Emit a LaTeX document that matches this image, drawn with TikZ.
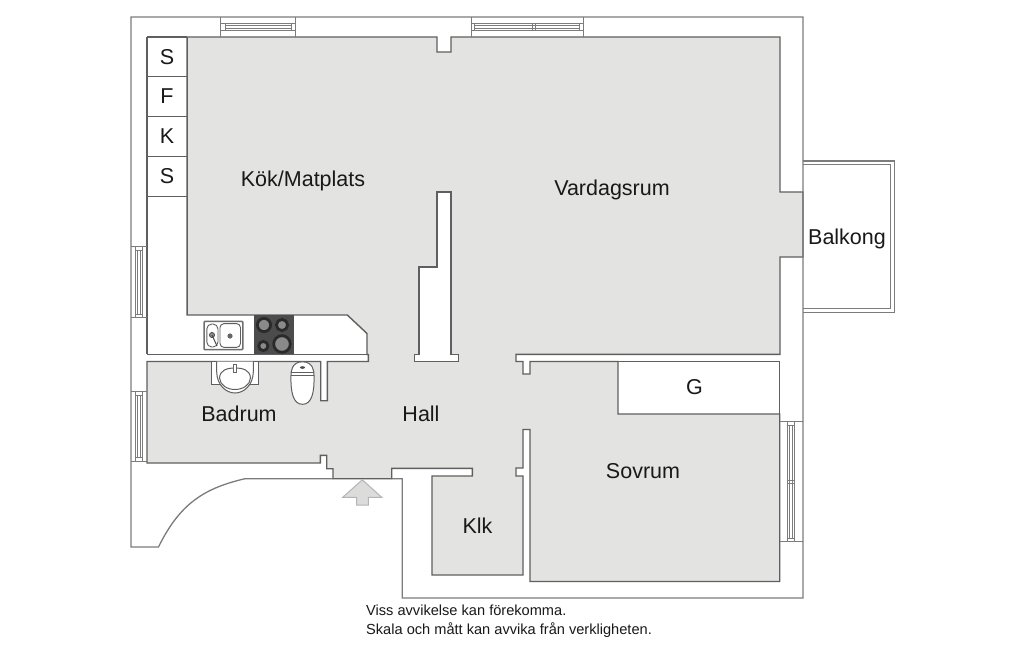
\documentclass[tikz,border=0pt]{standalone}
\usepackage{fontspec}
\setmainfont{Liberation Sans}
\definecolor{floorgray}{HTML}{E3E3E2}
\definecolor{wallline}{HTML}{5F5F5F}
\definecolor{outerline}{HTML}{7C7C7C}
\definecolor{hobdark}{HTML}{4C4C4C}
\definecolor{ringgray}{HTML}{2A2A2A}
\definecolor{burnergray}{HTML}{8A8A8A}
\definecolor{arrowfill}{HTML}{DCDCDB}
\definecolor{arrowline}{HTML}{B4B4B4}
\tikzset{
  wall/.style={draw=wallline,line width=1.4pt,line join=miter},
  outerwall/.style={draw=outerline,line width=1.3pt,line join=miter},
  winline/.style={draw=outerline,line width=1pt},
  roomlabel/.style={font=\fontsize{21.5}{24}\selectfont,text=black!90,inner sep=0pt},
  smalllabel/.style={font=\fontsize{14.6}{20}\selectfont,text=black!90,inner sep=0pt,anchor=base west},
  burner/.style={fill=burnergray,draw=ringgray,line width=2.8pt},
}
\begin{document}
\begin{tikzpicture}[x=1pt,y=-1pt]
\useasboundingbox (0,0) rectangle (1024,646);
\fill[white] (0,0) rectangle (1024,646);
% balcony
\draw[outerwall] (803,161) -- (894.3,161) -- (894.3,312.3) -- (803,312.3);
\draw[outerwall] (803,164.7) -- (890.7,164.7) -- (890.7,308.3) -- (803,308.3);
% floor
\filldraw[fill=floorgray,wall]
  (187,37) -- (437,37) -- (437,52) -- (451,52) -- (451,37) -- (780,37) -- (780,192) -- (803,192)
  -- (803,257) -- (780,257) -- (780,354.3) -- (516,354.3) -- (516,361.5) -- (523,361.5) -- (523,374)
  -- (530,374) -- (530,361.5) -- (618,361.5) -- (618,414) -- (779.7,414) -- (779.7,581.5) -- (530,581.5)
  -- (530,429.5) -- (523,429.5) -- (523,468) -- (516,468) -- (516,476) -- (523,476) -- (523,575)
  -- (432,575) -- (432,476) -- (472.3,476) -- (472.3,468.3) -- (391.7,468.3) -- (391.7,478.7)
  -- (333,478.7) -- (333,468.7) -- (326.7,468.7) -- (326.7,455.3) -- (320.3,455.3) -- (320.3,463)
  -- (147,463) -- (147,361.5) -- (320.7,361.5) -- (320.7,400.7) -- (327.3,400.7) -- (327.3,361.5)
  -- (368.3,361.5) -- (368.3,354.5) -- (367,354.5) -- (367,333.5) -- (347.3,315) -- (187,315) -- cycle;
% G closet, top and right
\draw[wall] (618,361.5) -- (779.7,361.5) -- (779.7,414);
% pillar
\filldraw[fill=white,wall] (437,192) -- (451,192) -- (451,354.3) -- (458.3,354.3) -- (458.3,361.7)
  -- (414.3,361.7) -- (414.3,354.3) -- (419,354.3) -- (419,267) -- (437,267) -- cycle;
% outer walls
\draw[outerwall] (391.7,478.7) -- (402.3,478.7) -- (402.3,598) -- (803,598) -- (803,17) -- (131,17) -- (131,547) -- (158.5,547)
  .. controls (180,503) and (205,488) .. (245,478.7) -- (333,478.7);
% inner kitchen wall lines
\draw[wall] (147,37) -- (187,37);
\draw[wall,line width=1.1pt] (147,37) -- (147,354.4);
\draw[wall] (147,354.4) -- (368,354.4);
\foreach \yy in {76.7,116.7,156.3,196.3} \draw[wall,line width=1pt] (147,\yy) -- (187,\yy);
\draw[wall,line width=1pt] (187,315) -- (187,37);
% top windows
\draw[winline] (220.7,17) -- (220.7,37) (295.5,17) -- (295.5,37);
\draw[winline] (220.7,23.5) -- (295.5,23.5) (220.7,30) -- (295.5,30);
\draw[winline,line width=.7pt] (225,25.2) -- (291.5,25.2) (225,28.5) -- (291.5,28.5) (225,23.5) -- (225,30) (291.5,23.5) -- (291.5,30);
\draw[winline] (471,17) -- (471,37) (583,17) -- (583,37);
\draw[winline] (471,23.5) -- (583,23.5) (471,30) -- (583,30);
\draw[winline,line width=.7pt] (474.5,25.2) -- (579.5,25.2) (474.5,28.5) -- (579.5,28.5) (474.5,23.5) -- (474.5,30) (579.5,23.5) -- (579.5,30) (532,23.5) -- (532,30) (535,23.5) -- (535,30);
% left windows
\foreach \ya/\yb in {246.5/317.5,391.7/461.3} {
  \draw[winline] (131,\ya) -- (147,\ya) (131,\yb) -- (147,\yb);
  \draw[winline] (135.3,\ya) -- (135.3,\yb) (142,\ya) -- (142,\yb);
  \draw[winline,line width=.7pt] (137,\ya+3.5) -- (137,\yb-3.5) (140.3,\ya+3.5) -- (140.3,\yb-3.5) (135.3,\ya+3.5) -- (142,\ya+3.5) (135.3,\yb-3.5) -- (142,\yb-3.5);
}
% right window
\draw[winline] (780,421.7) -- (803,421.7) (780,541.7) -- (803,541.7);
\draw[winline] (787.7,421.7) -- (787.7,541.7) (794.3,421.7) -- (794.3,541.7);
\draw[winline,line width=.7pt] (789.4,425) -- (789.4,538) (792.6,425) -- (792.6,538) (787.7,425) -- (794.3,425) (787.7,538) -- (794.3,538) (787.7,480.5) -- (794.3,480.5) (787.7,483.5) -- (794.3,483.5);
% hob
\fill[hobdark] (254,315) rectangle (294,354.4);
\draw[burner] (264,325) circle[radius=6.6];
\draw[burner] (282,325) circle[radius=5.6];
\draw[burner] (263.3,346) circle[radius=4.6];
\draw[burner] (282,344) circle[radius=8.3];
% sink
\draw[draw=burnergray!80!black,line width=1.5pt,rounded corners=1pt] (204,321.3) rectangle (242.8,349.7);
\draw[wall,line width=.9pt,fill=white,rounded corners=4pt] (220,323.6) rectangle (240.5,347.4);
\draw[wall,line width=.9pt,fill=white,rounded corners=5pt] (206.8,324) rectangle (218,347);
\fill[black!60] (230,336) circle[radius=2.6];
\filldraw[fill=burnergray,draw=black!70,line width=.7pt] (212,335) circle[radius=2.6];
\draw[black!70,line width=1pt] (212,335) -- (217,346);
% wash basin
\draw[wall,line width=1pt,fill=white] (211.7,361.5) -- (211.7,384) -- (258.3,384) -- (258.3,361.5);
\draw[wall,line width=1pt,fill=white] (216.7,361.5) -- (216.7,372) .. controls (217,385) and (226,393) .. (235,393) .. controls (244,393) and (253,385) .. (253.3,372) -- (253.3,361.5);
\draw[wall,line width=1pt] (219.5,378) .. controls (220,370) and (227,368) .. (235,368) .. controls (243,368) and (250,370) .. (250.5,378) .. controls (250,385) and (243,389.5) .. (235,389.5) .. controls (227,389.5) and (220,385) .. (219.5,378) -- cycle;
\filldraw[fill=white,draw=black!60,line width=.7pt] (233.7,364) rectangle (236.3,372);
% toilet
\filldraw[fill=white,wall,line width=1pt] (291,375) .. controls (291,372) and (291.5,361.8) .. (302.5,361.8) .. controls (313.5,361.8) and (314,372) .. (314,375)
  .. controls (314.5,392) and (312,404.3) .. (302.5,404.3) .. controls (293,404.3) and (290.5,392) .. (291,375) -- cycle;
\draw[wall,line width=1pt] (291,372.5) -- (314,372.5);
\draw[wall,line width=.7pt] (291.3,375) -- (313.7,375);
\fill[black!70] (302.5,367.5) ellipse[x radius=2.6,y radius=1.3];
% entry arrow
\filldraw[fill=arrowfill,draw=arrowline,line width=1pt,line join=miter] (362.3,479.8) -- (381.7,497.3) -- (368.3,497.3) -- (368.3,505) -- (356.7,505) -- (356.7,497.3) -- (342.7,497.3) -- cycle;
% labels
\node[roomlabel] (lblS1) at (167,57) {S};
\node[roomlabel] (lblF) at (167,96.5) {F};
\node[roomlabel] (lblK) at (167,136.5) {K};
\node[roomlabel] (lblS2) at (167,176) {S};
\node[roomlabel] (kok) at (303,180.5) {Kök/Matplats};
\node[roomlabel] (var) at (612,190) {Vardagsrum};
\node[roomlabel] (bal) at (847,238.5) {Balkong};
\node[roomlabel] (bad) at (239,413.5) {Badrum};
\node[roomlabel] (hall) at (421,414) {Hall};
\node[roomlabel] (gar) at (694.5,387.5) {G};
\node[roomlabel] (sov) at (643,471) {Sovrum};
\node[roomlabel] (klk) at (477.5,525.5) {Klk};
\node[smalllabel] (n1) at (366,615) {Viss avvikelse kan förekomma.};
\node[smalllabel] (n2) at (366,634) {Skala och mått kan avvika från verkligheten.};
\end{tikzpicture}
\end{document}
